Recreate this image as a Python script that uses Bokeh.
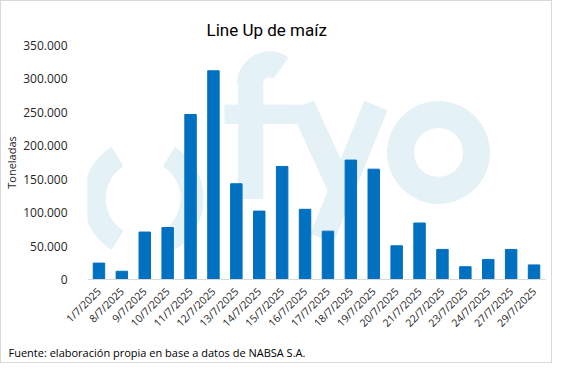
import math
from bokeh.plotting import figure
from bokeh.models import FactorRange, Range1d, FixedTicker, Title, ColumnDataSource
from bokeh.embed import file_html
from bokeh.resources import INLINE

categories = ["1/7/2025", "8/7/2025", "9/7/2025", "10/7/2025", "11/7/2025",
              "12/7/2025", "13/7/2025", "14/7/2025", "15/7/2025", "16/7/2025",
              "17/7/2025", "18/7/2025", "19/7/2025", "20/7/2025", "21/7/2025",
              "22/7/2025", "23/7/2025", "24/7/2025", "27/7/2025", "29/7/2025"]
toneladas = [24500, 12300, 71000, 77700, 246800, 312200, 143200, 102300, 169100, 105000,
             72300, 178600, 165000, 50400, 84500, 45000, 19100, 30000, 45000, 21800]
y_ticks = [0, 50000, 100000, 150000, 200000, 250000, 300000, 350000]
y_tick_labels = ["0", "50.000", "100.000", "150.000", "200.000", "250.000", "300.000", "350.000"]

title_text = "Line Up de maíz"
y_label = "Toneladas"
source_text = "Fuente: elaboración propia en base a datos de NABSA S.A."

FONT = "Open Sans"
BAR = "#0070c0"
WM = "#e4f1f6"
TXT = "#262626"

p = figure(x_range=FactorRange(factors=categories), y_range=Range1d(0, 350000),
           width=552, height=363, output_backend="svg", toolbar_location=None,
           min_border_left=78, min_border_right=8, min_border_top=44, min_border_bottom=66)


# --- watermark logo "( )fyo" (decoration only), placed in synthetic frame coordinates
def fx(px):
    return (px - 80) / 23.65


def fy(py):
    return (303 - py) / 257 * 350000


ring = ColumnDataSource(dict(x=[fx(137.5), fx(137.5), fx(268)], y=[fy(214), fy(214), fy(88)],
                             r0=[38, 38, 7], r1=[60, 60, 32],
                             a0=[math.radians(122), math.radians(-58), math.radians(55)],
                             a1=[math.radians(238), math.radians(58), math.radians(180)]))
w1 = p.annular_wedge(x="x", y="y", source=ring, inner_radius="r0", outer_radius="r1",
                     inner_radius_units="screen", outer_radius_units="screen",
                     start_angle="a0", end_angle="a1", color=WM)
w2 = p.quad(left=[fx(236), fx(222)], right=[fx(261), fx(312)],
            top=[fy(86), fy(111.5)], bottom=[fy(214), fy(131.5)], color=WM)
w3 = p.segment(x0=[fx(302), fx(378)], y0=[fy(112), fy(112)],
               x1=[fx(345), fx(322)], y1=[fy(212), fy(258)],
               line_color=WM, line_width=25, line_cap="butt")
w4 = p.annulus(x=[fx(442.5)], y=[fy(163.5)], inner_radius=25, outer_radius=51,
               inner_radius_units="screen", outer_radius_units="screen", color=WM)
for r in (w1, w2, w3, w4):
    r.level = "underlay"

# --- data bars
p.vbar(x=categories, top=toneladas, width=0.5, color=BAR)

p.xgrid.visible = False
p.ygrid.visible = False
p.outline_line_color = None

p.yaxis.ticker = FixedTicker(ticks=y_ticks)
p.yaxis.major_label_overrides = dict(zip(y_ticks, y_tick_labels))
p.yaxis.axis_line_color = None
p.yaxis.major_tick_line_color = None
p.yaxis.minor_tick_line_color = None
p.yaxis.major_label_standoff = 14
p.yaxis.axis_label = y_label
p.yaxis.axis_label_standoff = 1
p.yaxis.axis_label_text_font = FONT
p.yaxis.axis_label_text_font_size = "11px"
p.yaxis.axis_label_text_font_style = "normal"
p.yaxis.axis_label_text_color = TXT
p.yaxis.major_label_text_font = FONT
p.yaxis.major_label_text_font_size = "12px"
p.yaxis.major_label_text_color = TXT

p.xaxis.axis_line_color = "#d9d9d9"
p.xaxis.major_tick_line_color = None
p.xaxis.minor_tick_line_color = None
p.xaxis.major_label_orientation = math.pi / 4
p.xaxis.major_label_standoff = 4
p.xaxis.major_label_text_font = FONT
p.xaxis.major_label_text_font_size = "10.5px"
p.xaxis.major_label_text_color = TXT

p.title.text = title_text
p.title.align = "left"
p.title.offset = 119
p.title.vertical_align = "middle"
p.title.text_font = "Roboto"
p.title.text_font_size = "17px"
p.title.text_font_style = "normal"
p.title.text_color = "#000000"

p.add_layout(Title(text=source_text, align="left", offset=-79, text_font=FONT,
                   text_font_size="11px", text_font_style="normal", text_color="#000000"),
             "below")

p.styles = {"border": "1px solid #d9d9d9"}

open("out.html", "w").write(file_html(p, INLINE))
